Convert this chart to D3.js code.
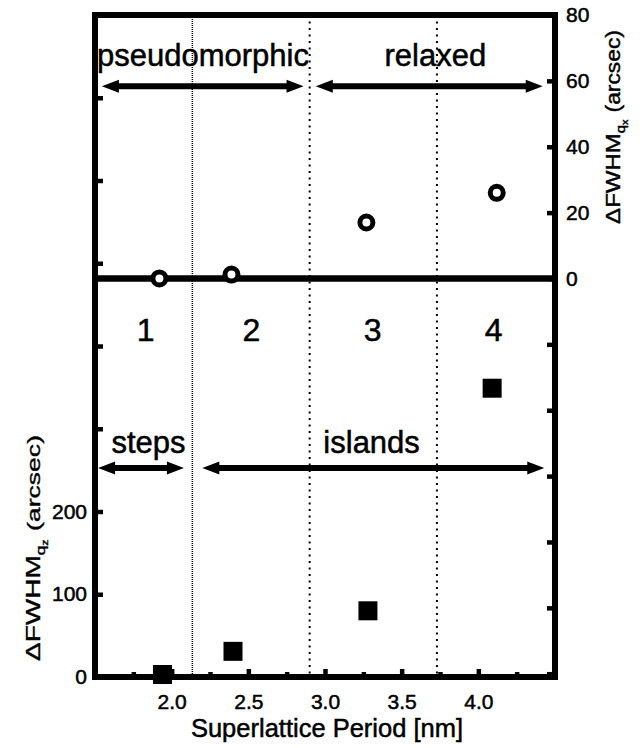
<!DOCTYPE html>
<html>
<head>
<meta charset="utf-8">
<script src="https://cdn.jsdelivr.net/npm/d3@7"></script>
<style>
body{margin:0;background:#fff;}
svg{display:block;font-family:"Liberation Sans",Arial,sans-serif;}
svg text{stroke:#000;stroke-width:0.5px;}
</style>
</head>
<body>
<svg id="chart" width="642" height="748"></svg>
<script>
// open circles: broadening along qx (right axis)
const periodsQx = [1.92, 2.39, 3.27, 4.12];
const fwhmQx = [0, 1.2, 17, 26];
// filled squares: broadening along qz (left axis)
const periodsQz = [1.94, 2.40, 3.28, 4.09];
const fwhmQz = [3, 31, 80, 349];

// sample numbers and where they sit on the period axis
const sampleNames = ['1', '2', '3', '4'];
const samplePeriods = [1.83, 2.52, 3.31, 4.10];

// dotted boundaries between samples
const boundaries = [2.135, 2.90, 3.73];

// regimes (period ranges covered by the arrows)
const strainNames = ['pseudomorphic', 'relaxed'];
const strainFrom = [1.545, 2.94];
const strainTo = [2.86, 4.42];
const growthNames = ['steps', 'islands'];
const growthFrom = [1.52, 2.20];
const growthTo = [2.08, 4.43];

// ticks
const xMajorTicks = [2.0, 2.5, 3.0, 3.5, 4.0];
const xMinorTicks = [1.75, 2.25, 2.75, 3.25, 3.75, 4.25];
const leftTicks = [0, 100, 200, 300, 400, 500, 600, 700, 800];
const leftTickLabels = [0, 100, 200];
const rightTicks = [-120, -100, -80, -60, -40, -20, 0, 20, 40, 60, 80];
const rightTickLabels = [0, 20, 40, 60, 80];

const chart = {};

chart.margin = {top: 15, bottom: 71, left: 95, right: 87};

chart.init = function(){
    "use strict";
    const svg = d3.select('#chart');
    const width = +svg.attr('width');
    const height = +svg.attr('height');
    const m = this.margin;

    this.x = d3.scaleLinear().domain([1.5, 4.5]).range([m.left, width - m.right]);
    this.yLeft = d3.scaleLinear().domain([0, 800]).range([height - m.bottom, m.top]);
    this.yRight = d3.scaleLinear().domain([-121, 80]).range([height - m.bottom, m.top]);
    this.svg = svg;

    this.drawBoundaries();
    this.drawAxes();
    this.drawArrows();
    this.drawPoints();
    this.drawLabels();
};

/**
 * dotted vertical lines between the samples
 */
chart.drawBoundaries = function(){
    const x = this.x, yL = this.yLeft;
    this.svg.append('g').selectAll('line')
        .data(boundaries)
        .enter()
        .append('line')
        .attr('x1', d => x(d)).attr('x2', d => x(d))
        .attr('y1', yL.range()[1]).attr('y2', yL.range()[0])
        .attr('stroke', '#000')
        .attr('stroke-width', (d, i) => i === 0 ? 1.5 : 2)
        .attr('stroke-dasharray', (d, i) => i === 0 ? '1,1' : '2,4.5');
};

chart.drawAxes = function(){
    const svg = this.svg, x = this.x, yL = this.yLeft, yR = this.yRight;
    const x0 = x.range()[0], x1 = x.range()[1];
    const y0 = yL.range()[0], y1 = yL.range()[1];

    let clean = function(g){
        g.select('.domain').remove();
        g.selectAll('line').attr('stroke', '#000').attr('stroke-width', 4.5);
        g.selectAll('text').attr('fill', '#000').attr('font-size', 21)
            .attr('font-family', '"Liberation Sans",Arial,sans-serif');
    };

    // inward ticks
    svg.append('g').attr('transform', `translate(${x0},0)`)
        .call(d3.axisRight(yL).tickValues(leftTicks).tickSize(8).tickFormat(''))
        .call(clean);
    svg.append('g').attr('transform', `translate(${x1},0)`)
        .call(d3.axisLeft(yR).tickValues(rightTicks).tickSize(8).tickFormat(''))
        .call(clean);
    svg.append('g').attr('transform', `translate(0,${y0})`)
        .call(d3.axisTop(x).tickValues(xMajorTicks).tickSize(8).tickFormat(''))
        .call(clean);
    svg.append('g').attr('transform', `translate(0,${y0})`)
        .call(d3.axisTop(x).tickValues(xMinorTicks).tickSize(5).tickFormat(''))
        .call(clean);

    // tick labels
    svg.append('g').attr('transform', `translate(${x0},0)`)
        .call(d3.axisLeft(yL).tickValues(leftTickLabels).tickSize(0).tickPadding(8).tickFormat(d3.format('d')))
        .call(clean);
    svg.append('g').attr('transform', `translate(${x1},0)`)
        .call(d3.axisRight(yR).tickValues(rightTickLabels).tickSize(0).tickPadding(11).tickFormat(d3.format('d')))
        .call(clean);
    svg.append('g').attr('transform', `translate(0,${y0})`)
        .call(d3.axisBottom(x).tickValues(xMajorTicks).tickSize(0).tickPadding(17).tickFormat(d3.format('.1f')))
        .call(clean);

    // frame and the zero line of the qx panel
    svg.append('rect')
        .attr('x', x0).attr('y', y1)
        .attr('width', x1 - x0).attr('height', y0 - y1)
        .attr('fill', 'none').attr('stroke', '#000').attr('stroke-width', 6);
    svg.append('line')
        .attr('x1', x0).attr('x2', x1)
        .attr('y1', yR(0)).attr('y2', yR(0))
        .attr('stroke', '#000').attr('stroke-width', 6.5);
};

/**
 * double headed arrow path between two pixel positions
 */
chart.arrowPath = function(a, b, y){
    const hl = 17, hw = 6.5, st = 3;
    return `M${a},${y} L${a + hl},${y - hw} L${a + hl},${y - st} L${b - hl},${y - st}` +
        ` L${b - hl},${y - hw} L${b},${y} L${b - hl},${y + hw} L${b - hl},${y + st}` +
        ` L${a + hl},${y + st} L${a + hl},${y + hw} Z`;
};

chart.drawArrows = function(){
    const x = this.x;
    const yTop = this.yRight(58.4);
    const yBottom = this.yLeft(252.6);
    const g = this.svg.append('g').attr('fill', '#000');
    strainNames.forEach(function(name, i){
        g.append('path').attr('d', chart.arrowPath(x(strainFrom[i]), x(strainTo[i]), yTop));
    });
    growthNames.forEach(function(name, i){
        g.append('path').attr('d', chart.arrowPath(x(growthFrom[i]), x(growthTo[i]), yBottom));
    });
};

chart.drawPoints = function(){
    const x = this.x, yL = this.yLeft, yR = this.yRight;
    const size = 19;
    this.svg.append('g').selectAll('rect')
        .data(periodsQz)
        .enter()
        .append('rect')
        .attr('x', d => x(d) - size / 2)
        .attr('y', (d, i) => yL(fwhmQz[i]) - size / 2)
        .attr('width', size).attr('height', size)
        .attr('fill', '#000');
    this.svg.append('g').selectAll('circle')
        .data(periodsQx)
        .enter()
        .append('circle')
        .attr('cx', d => x(d))
        .attr('cy', (d, i) => yR(fwhmQx[i]))
        .attr('r', 6.5)
        .attr('fill', '#fff')
        .attr('stroke', '#000')
        .attr('stroke-width', 5);
};

chart.drawLabels = function(){
    const svg = this.svg, x = this.x, yL = this.yLeft, yR = this.yRight;

    // regime names
    svg.append('text').attr('x', x(1.513)).attr('y', yR(64.6))
        .attr('font-size', 31).text(strainNames[0]);
    svg.append('text').attr('x', x(3.72)).attr('y', yR(64.6))
        .attr('font-size', 31).attr('text-anchor', 'middle').text(strainNames[1]);
    svg.append('text').attr('x', x(1.849)).attr('y', yL(270.7))
        .attr('font-size', 31).attr('text-anchor', 'middle').text(growthNames[0]);
    svg.append('text').attr('x', x(3.304)).attr('y', yL(270.7))
        .attr('font-size', 31).attr('text-anchor', 'middle').text(growthNames[1]);

    // sample numbers
    svg.append('g').selectAll('text')
        .data(sampleNames)
        .enter()
        .append('text')
        .attr('x', (d, i) => x(samplePeriods[i]))
        .attr('y', yL(406))
        .attr('font-size', 32)
        .attr('text-anchor', 'middle')
        .text(d => d);

    // x axis title
    svg.append('text')
        .attr('x', 327).attr('y', 737)
        .attr('font-size', 25.5).attr('text-anchor', 'middle')
        .text('Superlattice Period [nm]');

    // y axis titles
    let yTitle = function(tx, ty, size, squash, sub){
        let t = svg.append('text')
            .attr('transform', `translate(${tx},${ty}) rotate(-90) scale(1,${squash})`)
            .attr('text-anchor', 'middle')
            .attr('font-size', size);
        t.append('tspan').text('\u0394FWHM');
        t.append('tspan').attr('font-size', size * 0.62).attr('dy', size * 0.25).text('q');
        t.append('tspan').attr('font-size', size * 0.45).attr('dy', size * 0.15).text(sub);
        t.append('tspan').attr('font-size', size * 0.95).attr('dx', size * 0.3)
            .attr('dy', -size * 0.4).text('(arcsec)');
    };
    yTitle(40, 548, 28, 0.72, 'z');
    yTitle(620, 127, 24, 0.85, 'x');
};

chart.init();
</script>
</body>
</html>
